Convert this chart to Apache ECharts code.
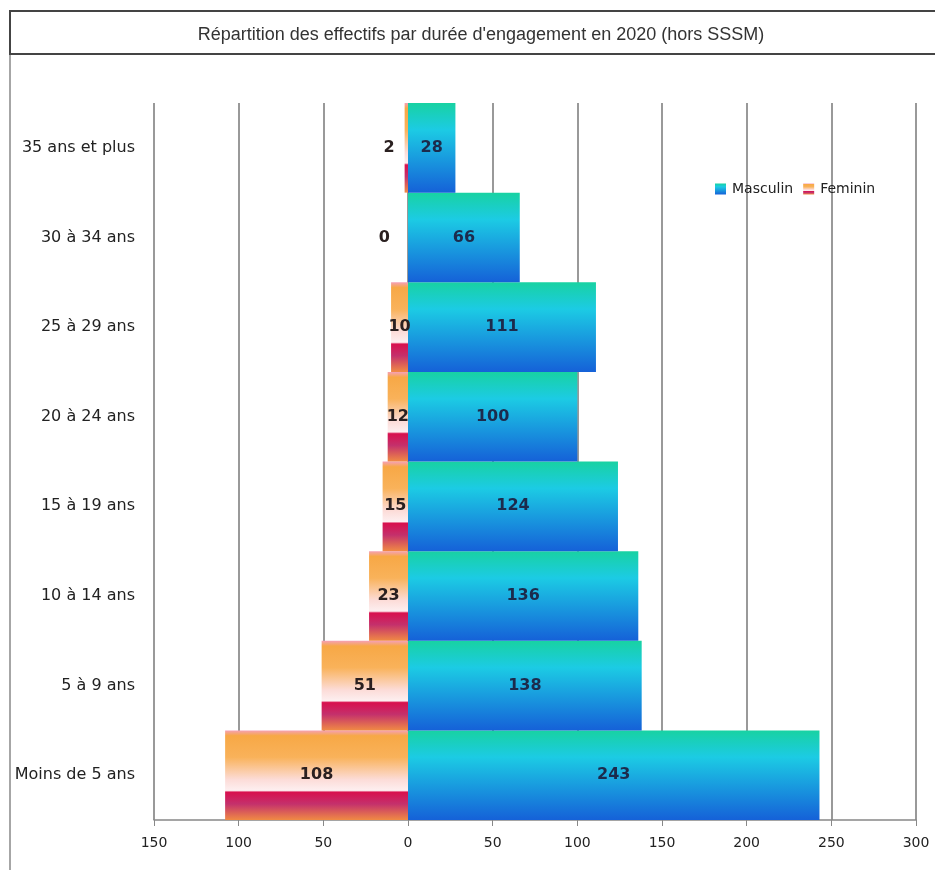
<!DOCTYPE html>
<html>
<head>
<meta charset="utf-8">
<script src="https://cdn.jsdelivr.net/npm/echarts@6/dist/echarts.min.js"></script>
<style>
  html, body { margin: 0; padding: 0; background: #fff; }
  #chart { width: 935px; height: 870px; }
</style>
</head>
<body>
<div id="chart"></div>
<script>
// bottom to top, like the category axis
const categories = ["Moins de 5 ans", "5 à 9 ans", "10 à 14 ans", "15 à 19 ans", "20 à 24 ans", "25 à 29 ans", "30 à 34 ans", "35 ans et plus"];
const masculin = [243, 138, 136, 124, 100, 111, 66, 28];
const feminin = [108, 51, 23, 15, 12, 10, 0, 2];
const xTicks = { min: -150, max: 300, step: 50 };

let myChart = echarts.init(document.getElementById("chart"));

let blueGrad = new echarts.graphic.LinearGradient(0, 0, 0, 1, [
  { offset: 0, color: "#18d2a2" },
  { offset: 0.3, color: "#1ccbe4" },
  { offset: 1, color: "#1561d8" }
]);
let pinkGrad = new echarts.graphic.LinearGradient(0, 0, 0, 1, [
  { offset: 0, color: "#f5a0b8" },
  { offset: 0.06, color: "#f7a846" },
  { offset: 0.3, color: "#f9b25a" },
  { offset: 0.55, color: "#fcdcd8" },
  { offset: 0.67, color: "#fdeff0" },
  { offset: 0.69, color: "#d8104e" },
  { offset: 0.82, color: "#c4306c" },
  { offset: 1, color: "#f08a44" }
]);

let femData = feminin.map(function (v) {
  let item = { value: -v };
  if (v < 5) {
    // tiny bars: put the number beside the bar
    item.label = { position: "left", distance: v === 0 ? 18 : 10 };
  }
  return item;
});

myChart.setOption({
  animation: false,
  title: {
    text: "Répartition des effectifs par durée d'engagement en 2020 (hors SSSM)",
    left: 476,
    textAlign: "center",
    top: 21,
    textStyle: {
      fontFamily: "Liberation Sans",
      fontSize: 18,
      fontWeight: "normal",
      color: "#333"
    }
  },
  graphic: [
    {
      type: "rect",
      shape: { x: 10, y: 11, width: 940, height: 43 },
      style: { fill: "none", stroke: "#444", lineWidth: 2 },
      z: 10
    },
    {
      type: "line",
      shape: { x1: 10, y1: 54, x2: 10, y2: 880 },
      style: { stroke: "#888", lineWidth: 1.5 }
    }
  ],
  legend: {
    left: 710,
    top: 177,
    itemWidth: 11,
    itemHeight: 11,
    itemGap: 10,
    icon: "rect",
    textStyle: {
      fontFamily: "DejaVu Sans",
      fontSize: 14,
      color: "#222",
      padding: [0, 0, 0, 1]
    },
    data: ["Masculin", "Feminin"]
  },
  grid: {
    left: 154,
    right: 19,
    top: 103,
    bottom: 50
  },
  xAxis: {
    type: "value",
    min: xTicks.min,
    max: xTicks.max,
    interval: xTicks.step,
    axisLine: { show: true, lineStyle: { color: "#888", width: 1.5 } },
    axisTick: { show: true, length: 6, lineStyle: { color: "#888" } },
    axisLabel: {
      margin: 16,
      color: "#222",
      fontFamily: "DejaVu Sans",
      fontSize: 14,
      formatter: function (v) {
        return Math.abs(v);
      }
    },
    splitLine: { show: true, lineStyle: { color: "#777", width: 1.5 } }
  },
  yAxis: {
    type: "category",
    data: categories,
    axisLine: { show: false },
    axisTick: { show: false },
    axisLabel: {
      margin: 19,
      color: "#222",
      fontFamily: "DejaVu Sans",
      fontSize: 16
    }
  },
  series: [
    {
      name: "Masculin",
      type: "bar",
      data: masculin,
      barGap: "-100%",
      barCategoryGap: "0%",
      itemStyle: { color: blueGrad },
      label: {
        show: true,
        position: "inside",
        color: "#1c2b4c",
        fontFamily: "DejaVu Sans",
        fontWeight: "bold",
        fontSize: 16
      }
    },
    {
      name: "Feminin",
      type: "bar",
      data: femData,
      barGap: "-100%",
      barCategoryGap: "0%",
      itemStyle: { color: pinkGrad },
      label: {
        show: true,
        position: "inside",
        color: "#2a2020",
        fontFamily: "DejaVu Sans",
        fontWeight: "bold",
        fontSize: 16,
        formatter: function (p) {
          return Math.abs(p.value);
        }
      }
    }
  ]
});
</script>
</body>
</html>
